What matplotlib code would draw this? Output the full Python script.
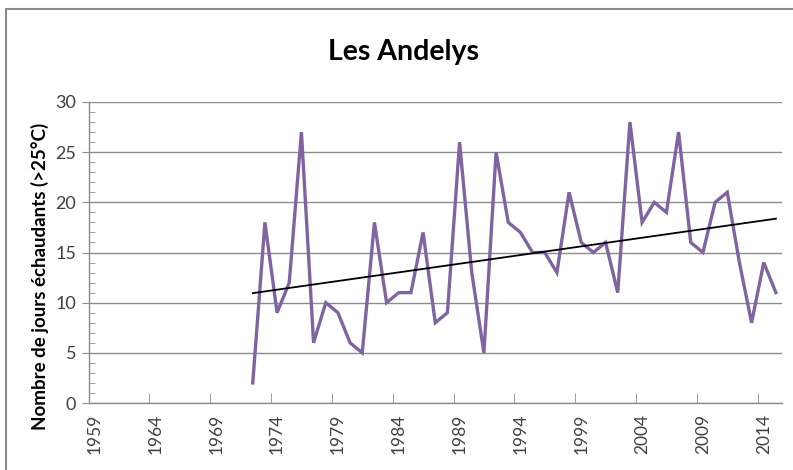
import numpy as np
import matplotlib
matplotlib.use("Agg")
import matplotlib.pyplot as plt
from matplotlib.patches import Rectangle
from matplotlib.ticker import MultipleLocator

# data
years = list(range(1972, 2016))
hot_days = [2, 18, 9, 12, 27, 6, 10, 9, 6, 5,
            18, 10, 11, 11, 17, 8, 9, 26, 13, 5,
            25, 18, 17, 15, 15, 13, 21, 16, 15, 16,
            11, 28, 18, 20, 19, 27, 16, 15, 20, 21,
            14, 8, 14, 11]
tick_years = list(range(1959, 2015, 5))
title = "Les Andelys"
ylabel = "Nombre de jours échaudants (>25°C)"

plt.rcParams["font.family"] = ["Lato", "DejaVu Sans"]

W, H = 793, 470
fig = plt.figure(figsize=(W / 100, H / 100), dpi=100)
ax = fig.add_axes([88.5 / W, 1 - 403 / H, (782 - 88.5) / W, (403 - 102) / H])

# outer frame of the chart object
fig.patches.append(Rectangle((6 / W, -0.1), 1.1, 1.1 - 9 / H, transform=fig.transFigure,
                             fill=False, edgecolor="#8c8c8c", linewidth=1.5))

ax.plot(years, hot_days, color="#8064A2", linewidth=2.4, solid_joinstyle="miter", zorder=3)

coef = np.polyfit(years, hot_days, 1)
x_fit = np.array([years[0], years[-1]])
ax.plot(x_fit, np.polyval(coef, x_fit), color="black", linewidth=1.3, zorder=4)

ax.set_xlim(1958.5, 2015.5)
ax.set_ylim(0, 30)
ax.yaxis.set_major_locator(MultipleLocator(5))
ax.yaxis.set_minor_locator(MultipleLocator(1))
ax.grid(axis="y", color="#8c8c8c", linewidth=1.0)
ax.set_axisbelow(True)

ax.set_xticks(tick_years, [str(y) for y in tick_years], rotation=90)
ax.set_xticks([y - 0.5 for y in tick_years], minor=True)
ax.tick_params(axis="x", which="major", length=0, pad=8, labelsize=12.5, labelcolor="#404040")
ax.tick_params(axis="x", which="minor", direction="in", length=7, color="#8c8c8c")
ax.tick_params(axis="y", which="major", direction="out", length=5, color="#8c8c8c",
               labelsize=13, labelcolor="#404040", pad=4)
ax.tick_params(axis="y", which="minor", direction="in", length=4, color="#8c8c8c")

for side in ("top", "right"):
    ax.spines[side].set_visible(False)
for side in ("left", "bottom"):
    ax.spines[side].set_color("#8c8c8c")
    ax.spines[side].set_linewidth(1.0)

fig.text(403 / W, 1 - 52 / H, title, fontsize=20.5, fontweight="bold", ha="center", va="center")
fig.text(40 / W, 1 - 276 / H, ylabel, fontsize=13.5, fontweight="bold", rotation=90,
         ha="center", va="center")

fig.savefig("out.png", dpi=100)
